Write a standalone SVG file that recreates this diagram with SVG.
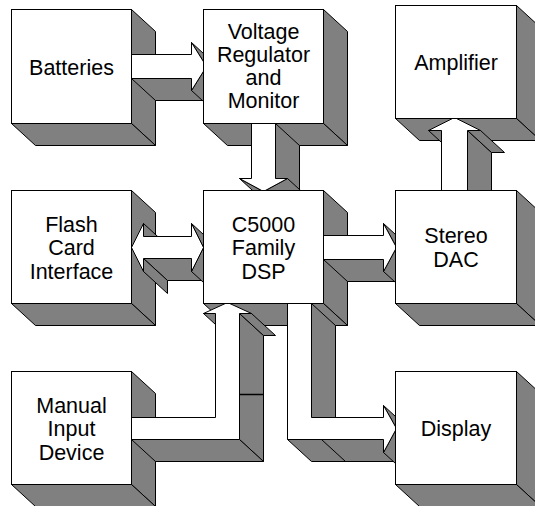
<svg xmlns="http://www.w3.org/2000/svg" width="535" height="506" viewBox="0 0 535 506">
<style>
.side{fill:#808080;stroke:#000;stroke-width:1;stroke-linejoin:miter}
.front{fill:#fff;stroke:#000;stroke-width:1}
.ln{stroke:#000;stroke-width:1.5;fill:none}
.lbl{font-family:"Liberation Sans",Arial,sans-serif;font-size:21.5px;text-anchor:middle;fill:#000}
</style>
<defs>
<clipPath id="cp">
<path clip-rule="evenodd" d="M-10,-10H545V516H-10Z M10.5,8.5V123.5H131.5V8.5Z M202.5,8.5V123.5H323.5V8.5Z M394.5,4.5V118.5H516.5V4.5Z M10.5,189.5V303.5H131.5V189.5Z M202.5,189.5V303.5H323.5V189.5Z M394.5,189.5V303.5H516.5V189.5Z M10.5,370.5V484.5H131.5V370.5Z M394.5,370.5V484.5H516.5V370.5Z"/>
</clipPath>
</defs>
<g transform="translate(0.5 0.5)">
<g id="batteries">
<polygon class="side" points="131,9 155,31 155,145 131,123"/>
<polygon class="side" points="11,123 131,123 155,145 35,145"/>
<rect class="front" x="11" y="9" width="120" height="114"/>
<text class="lbl" x="71" y="74">Batteries</text>
</g>
<g id="voltage">
<polygon class="side" points="323,9 347,31 347,145 323,123"/>
<polygon class="side" points="203,123 323,123 347,145 227,145"/>
<rect class="front" x="203" y="9" width="120" height="114"/>
<text class="lbl" x="263" y="38">Voltage</text>
<text class="lbl" x="263" y="61">Regulator</text>
<text class="lbl" x="263" y="84">and</text>
<text class="lbl" x="263" y="107">Monitor</text>
</g>
<g id="amplifier">
<polygon class="side" points="516,5 540,27 540,140 516,118"/>
<polygon class="side" points="395,118 516,118 540,140 419,140"/>
<rect class="front" x="395" y="5" width="121" height="113"/>
<text class="lbl" x="455.5" y="69">Amplifier</text>
</g>
<g id="flash">
<polygon class="side" points="131,190 155,212 155,325 131,303"/>
<polygon class="side" points="11,303 131,303 155,325 35,325"/>
<rect class="front" x="11" y="190" width="120" height="113"/>
<text class="lbl" x="71" y="231">Flash</text>
<text class="lbl" x="71" y="254.5">Card</text>
<text class="lbl" x="71" y="278">Interface</text>
</g>
<g id="dsp">
<polygon class="side" points="323,190 347,212 347,325 323,303"/>
<polygon class="side" points="203,303 323,303 347,325 227,325"/>
<rect class="front" x="203" y="190" width="120" height="113"/>
<text class="lbl" x="263" y="231">C5000</text>
<text class="lbl" x="263" y="254.5">Family</text>
<text class="lbl" x="263" y="278">DSP</text>
</g>
<g id="dac">
<polygon class="side" points="516,190 540,212 540,325 516,303"/>
<polygon class="side" points="395,303 516,303 540,325 419,325"/>
<rect class="front" x="395" y="190" width="121" height="113"/>
<text class="lbl" x="455.5" y="242.5">Stereo</text>
<text class="lbl" x="455.5" y="266">DAC</text>
</g>
<g id="manual">
<polygon class="side" points="131,371 155,393 155,506 131,484"/>
<polygon class="side" points="11,484 131,484 155,506 35,506"/>
<rect class="front" x="11" y="371" width="120" height="113"/>
<text class="lbl" x="71" y="412">Manual</text>
<text class="lbl" x="71" y="435.5">Input</text>
<text class="lbl" x="71" y="459">Device</text>
</g>
<g id="display">
<polygon class="side" points="516,371 540,393 540,506 516,484"/>
<polygon class="side" points="395,484 516,484 540,506 419,506"/>
<rect class="front" x="395" y="371" width="121" height="113"/>
<text class="lbl" x="455.5" y="435">Display</text>
</g>
<g id="connectors" clip-path="url(#cp)">
<g id="c-batteries-voltage">
<polygon class="side" points="131,78 191,78 215,100 155,100"/>
<polygon class="side" points="191,42 206,66 230,88 215,64"/>
<polygon class="side" points="206,66 191,90 215,112 230,88"/>
<polygon class="front" points="131,54 191,54 191,42 206,66 191,90 191,78 131,78"/>
</g>
<g id="c-voltage-dsp">
<polygon class="side" points="275,123 275,178 299,200 299,145"/>
<polygon class="side" points="287,178 263,191 287,213 311,200"/>
<polygon class="side" points="263,191 239,178 263,200 287,213"/>
<polygon class="front" points="251,123 275,123 275,178 287,178 263,191 239,178 251,178"/>
</g>
<g id="c-flash-dsp">
<polygon class="side" points="143,223 143,236 167,258 167,245"/>
<polygon class="side" points="143,258 191,258 215,280 167,280"/>
<polygon class="side" points="143,258 143,271 167,293 167,280"/>
<polygon class="side" points="191,223 203,247 227,269 215,245"/>
<polygon class="side" points="203,247 191,271 215,293 227,269"/>
<polygon class="front" points="131,247 143,223 143,236 191,236 191,223 203,247 191,271 191,258 143,258 143,271"/>
</g>
<g id="c-dsp-dac">
<polygon class="side" points="323,259 383,259 407,281 347,281"/>
<polygon class="side" points="383,223 396,247 420,269 407,245"/>
<polygon class="side" points="396,247 383,271 407,293 420,269"/>
<polygon class="front" points="323,235 383,235 383,223 396,247 383,271 383,259 323,259"/>
</g>
<g id="c-dac-amplifier">
<polygon class="side" points="428,130 441,130 465,152 452,152"/>
<polygon class="side" points="467,130 467,190 491,212 491,152"/>
<polygon class="side" points="467,130 480,130 504,152 491,152"/>
<polygon class="front" points="441,190 441,130 428,130 454,117 480,130 467,130 467,190"/>
</g>
<g id="c-manual-dsp">
<polygon class="side" points="203,313 215,313 239,335 227,335"/>
<polygon class="side" points="239,313 239,439 263,461 263,335"/>
<polygon class="side" points="239,313 251,313 275,335 263,335"/>
<polygon class="side" points="131,439 239,439 263,461 155,461"/>
<polygon class="front" points="131,417 215,417 215,313 203,313 227,302 251,313 239,313 239,439 131,439"/>
<line class="ln" x1="239" y1="394" x2="263" y2="394"/>
</g>
<g id="c-dsp-display">
<polygon class="side" points="311,303 311,417 335,439 335,325"/>
<polygon class="side" points="287,439 383,439 407,461 311,461"/>
<polygon class="side" points="383,405 396,428 420,450 407,427"/>
<polygon class="side" points="396,428 383,452 407,474 420,450"/>
<polygon class="front" points="287,303 311,303 311,417 383,417 383,405 396,428 383,452 383,439 287,439"/>
<line class="ln" x1="321" y1="439" x2="345" y2="461" style="stroke-width:1"/>
</g>
</g>
</g>
</svg>
